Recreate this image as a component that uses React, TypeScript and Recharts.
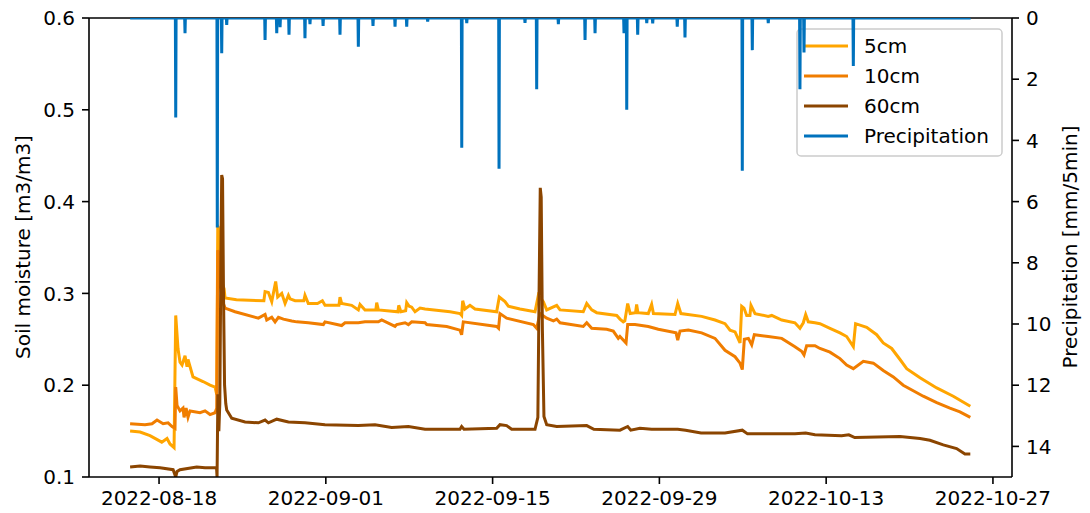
import React from "react";
import { LineChart, Line, XAxis, YAxis, ReferenceLine, Customized } from "recharts";

// x values are days since 2022-08-18
const dateTicks = [0, 14, 28, 42, 56, 70];
const dateLabels = ["2022-08-18", "2022-09-01", "2022-09-15", "2022-09-29", "2022-10-13", "2022-10-27"];
const moistureTicks = [0.1, 0.2, 0.3, 0.4, 0.5, 0.6];
const precipTicks = [0, 2, 4, 6, 8, 10, 12, 14];

const seriesNames = ["5cm", "10cm", "60cm", "Precipitation"];
const seriesColors = ["#ffa500", "#f07d00", "#8b4500", "#0072bd"];

// [day, m3/m3]
const soil5cm: [number, number][] = [
  [-2.43, 0.15], [-1.59, 0.149], [-0.76, 0.145], [0.23, 0.138], [0.67, 0.142], [0.92, 0.136],
  [1.26, 0.132], [1.4, 0.276], [1.59, 0.24], [1.76, 0.225], [1.93, 0.222], [2.18, 0.232],
  [2.35, 0.22], [2.43, 0.228], [2.85, 0.209], [3.69, 0.204], [4.28, 0.2], [4.7, 0.198],
  [4.84, 0.19], [4.93, 0.373], [4.98, 0.372], [5.08, 0.33], [5.2, 0.315], [5.46, 0.305],
  [5.54, 0.295], [6.5, 0.293], [8.8, 0.292], [8.9, 0.302], [9.18, 0.301], [9.46, 0.291],
  [9.79, 0.313], [9.96, 0.296], [10.3, 0.3], [10.58, 0.289], [10.86, 0.298], [11.0, 0.294],
  [11.42, 0.292], [12.15, 0.292], [12.25, 0.298], [12.53, 0.289], [13.3, 0.289], [13.71, 0.292],
  [13.93, 0.287], [15.1, 0.287], [15.19, 0.296], [15.33, 0.289], [16.17, 0.287], [16.73, 0.282],
  [16.87, 0.288], [17.29, 0.282], [18.2, 0.282], [18.27, 0.29], [18.41, 0.282], [20.05, 0.28],
  [20.12, 0.287], [20.3, 0.28], [20.7, 0.281], [20.79, 0.29], [21.0, 0.286], [21.21, 0.285],
  [21.49, 0.28], [21.91, 0.284], [22.33, 0.283], [24.43, 0.28], [25.26, 0.278], [25.4, 0.276],
  [25.49, 0.292], [25.68, 0.283], [26.1, 0.287], [26.52, 0.283], [28.34, 0.28], [28.56, 0.296],
  [29.04, 0.291], [29.32, 0.286], [30.3, 0.283], [31.56, 0.28], [31.84, 0.298], [32.26, 0.291],
  [32.54, 0.282], [33.38, 0.287], [33.66, 0.282], [35.61, 0.28], [35.9, 0.289], [36.32, 0.282],
  [36.74, 0.279], [38.42, 0.276], [38.69, 0.272], [38.97, 0.269], [39.1, 0.27], [39.34, 0.289],
  [39.55, 0.278], [40.0, 0.279], [40.09, 0.288], [40.2, 0.279], [41.07, 0.278], [41.35, 0.288],
  [41.5, 0.278], [43.31, 0.277], [43.54, 0.289], [43.81, 0.278], [45.55, 0.275], [46.67, 0.271],
  [47.51, 0.267], [47.93, 0.26], [48.35, 0.258], [48.77, 0.246], [48.91, 0.286], [49.1, 0.284],
  [49.33, 0.276], [49.6, 0.276], [49.69, 0.287], [50.03, 0.278], [51.14, 0.275], [51.43, 0.276],
  [52.27, 0.271], [53.38, 0.268], [53.8, 0.262], [54.08, 0.268], [54.28, 0.277], [54.5, 0.269],
  [55.06, 0.268], [55.48, 0.267], [56.32, 0.262], [57.16, 0.257], [57.72, 0.253], [58.28, 0.242],
  [58.47, 0.267], [59.4, 0.263], [60.24, 0.255], [60.79, 0.246], [61.5, 0.24], [62.2, 0.228],
  [62.76, 0.218], [63.88, 0.208], [65.28, 0.197], [66.67, 0.188], [68.1, 0.177],
];

const soil10cm: [number, number][] = [
  [-2.43, 0.158], [-1.18, 0.157], [-0.59, 0.158], [-0.17, 0.162], [0.34, 0.158], [0.76, 0.159],
  [1.09, 0.155], [1.34, 0.153], [1.4, 0.198], [1.51, 0.178], [1.76, 0.172], [2.01, 0.175],
  [2.1, 0.165], [2.27, 0.175], [2.43, 0.165], [2.6, 0.172], [3.44, 0.17], [3.86, 0.172],
  [4.28, 0.168], [4.7, 0.17], [4.84, 0.175], [4.93, 0.347], [5.0, 0.345], [5.12, 0.31],
  [5.37, 0.29], [5.54, 0.284], [6.38, 0.28], [8.34, 0.273], [8.9, 0.277], [9.04, 0.271],
  [9.46, 0.274], [9.74, 0.269], [10.02, 0.274], [10.44, 0.272], [11.14, 0.27], [11.56, 0.269],
  [12.53, 0.268], [13.79, 0.266], [13.93, 0.269], [15.33, 0.265], [15.61, 0.268], [16.73, 0.268],
  [17.29, 0.269], [18.41, 0.269], [18.69, 0.271], [19.81, 0.264], [19.95, 0.266], [20.65, 0.268],
  [20.93, 0.266], [21.21, 0.269], [22.33, 0.268], [22.47, 0.266], [24.15, 0.264], [25.26, 0.26],
  [25.4, 0.255], [25.54, 0.269], [28.34, 0.264], [28.5, 0.262], [28.62, 0.278], [29.18, 0.273],
  [31.42, 0.266], [31.7, 0.262], [31.98, 0.278], [32.54, 0.273], [33.1, 0.27], [33.38, 0.272],
  [33.66, 0.268], [35.61, 0.264], [35.9, 0.268], [36.32, 0.262], [37.58, 0.261], [38.13, 0.259],
  [38.55, 0.251], [38.69, 0.253], [39.2, 0.246], [39.34, 0.266], [39.95, 0.266], [41.07, 0.264],
  [41.91, 0.261], [43.4, 0.257], [43.54, 0.249], [43.73, 0.259], [44.43, 0.26], [45.55, 0.257],
  [46.67, 0.251], [47.51, 0.238], [48.35, 0.231], [48.77, 0.224], [48.96, 0.217], [49.13, 0.25],
  [49.47, 0.251], [49.75, 0.244], [49.97, 0.255], [51.14, 0.253], [52.27, 0.251], [53.38, 0.242],
  [53.94, 0.237], [54.14, 0.233], [54.36, 0.243], [55.06, 0.243], [55.48, 0.24], [56.32, 0.236],
  [57.16, 0.229], [57.72, 0.222], [58.28, 0.218], [59.12, 0.226], [59.96, 0.224], [60.79, 0.216],
  [61.64, 0.209], [62.47, 0.2], [63.31, 0.194], [64.15, 0.188], [65.28, 0.181], [66.39, 0.175],
  [67.23, 0.171], [68.1, 0.165],
];

const soil60cm: [number, number][] = [
  [-2.43, 0.111], [-1.59, 0.112], [-0.76, 0.111], [0.08, 0.11], [1.18, 0.108], [1.4, 0.1],
  [1.51, 0.106], [1.76, 0.108], [3.16, 0.111], [3.86, 0.11], [4.7, 0.11], [4.83, 0.109],
  [4.87, 0.1], [4.94, 0.19], [5.02, 0.15], [5.1, 0.18], [5.2, 0.35], [5.26, 0.429],
  [5.33, 0.425], [5.41, 0.3], [5.5, 0.2], [5.6, 0.18], [5.68, 0.173], [6.1, 0.164],
  [7.22, 0.16], [8.34, 0.159], [8.9, 0.162], [9.18, 0.159], [9.88, 0.163], [10.86, 0.16],
  [12.25, 0.159], [13.93, 0.157], [16.73, 0.156], [18.13, 0.157], [19.53, 0.154], [20.93, 0.155],
  [22.33, 0.152], [25.26, 0.152], [25.4, 0.155], [25.6, 0.152], [28.34, 0.153], [28.62, 0.157],
  [29.18, 0.156], [29.6, 0.152], [31.56, 0.152], [31.8, 0.165], [31.9, 0.3], [32.0, 0.415],
  [32.08, 0.405], [32.18, 0.26], [32.31, 0.166], [32.54, 0.157], [33.38, 0.155], [35.9, 0.156],
  [36.5, 0.152], [38.69, 0.151], [39.34, 0.155], [39.6, 0.151], [40.37, 0.153], [41.35, 0.152],
  [43.54, 0.152], [44.2, 0.151], [45.5, 0.148], [47.51, 0.148], [48.96, 0.151], [49.4, 0.147],
  [51.14, 0.147], [53.38, 0.147], [54.28, 0.148], [55.06, 0.146], [57.3, 0.145], [57.9, 0.146],
  [58.4, 0.143], [62.2, 0.144], [63.88, 0.142], [64.71, 0.14], [65.83, 0.135], [66.95, 0.131],
  [67.65, 0.125], [68.1, 0.125],
];

// [day, mm/5min] for each rain event; record runs from day -2.43 to 68.13
const precipRange = [-2.43, 68.13];
const precipEvents: [number, number][] = [
  [1.4, 3.25], [2.18, 0.5], [4.89, 6.85], [5.26, 1.15], [5.68, 0.23], [8.9, 0.72],
  [9.88, 0.5], [10.16, 0.3], [10.91, 0.55], [12.25, 0.66], [12.67, 0.2], [13.77, 0.26],
  [15.19, 0.55], [16.73, 0.94], [17.96, 0.26], [19.81, 0.28], [20.79, 0.28], [22.55, 0.12],
  [25.41, 4.24], [25.83, 0.17], [28.54, 4.93], [30.72, 0.16], [31.7, 2.33], [33.52, 0.2],
  [35.76, 0.72], [36.6, 0.5], [39.03, 0.5], [39.26, 3.0], [40.18, 0.55], [40.94, 0.17],
  [41.44, 0.18], [43.5, 0.28], [44.15, 0.64], [48.96, 4.99], [49.8, 1.05], [51.14, 0.17],
  [53.8, 2.33], [54.14, 1.13], [58.28, 1.57],
];

const toPoints = (arr: [number, number][]) => arr.map(([day, value]) => ({ day, value }));

const precipData = [
  { day: precipRange[0], value: 0 },
  ...precipEvents.flatMap(([day, value]) => [
    { day: day - 0.03, value: 0 },
    { day, value },
    { day: day + 0.03, value: 0 },
  ]),
  { day: precipRange[1], value: 0 },
];

const font = "DejaVu Sans, sans-serif";
const tickStyle = { fill: "#000", fontSize: 20, fontFamily: font };

function Overlay() {
  return (
    <g fontFamily={font} fontSize={20} fill="#000">
      <text x={23} y={247} transform="rotate(-90 23 247)" textAnchor="middle" dominantBaseline="central">
        Soil moisture [m3/m3]
      </text>
      <text x={1070} y={247} transform="rotate(-90 1070 247)" textAnchor="middle" dominantBaseline="central">
        Precipitation [mm/5min]
      </text>
      <rect x={797} y={29} width={205} height={127} rx={4} fill="#fff" fillOpacity={0.8} stroke="#cccccc" strokeWidth={1.5} />
      {seriesNames.map((name, i) => (
        <g key={name}>
          <line x1={804} x2={848} y1={46 + i * 30} y2={46 + i * 30} stroke={seriesColors[i]} strokeWidth={3} />
          <text x={864} y={46 + i * 30} dominantBaseline="central">{name}</text>
        </g>
      ))}
    </g>
  );
}

export default function App() {
  return (
    <div style={{ width: 1090, height: 513, margin: "-8px 0 0 -8px", fontFamily: font }}>
      <LineChart width={1090} height={513} margin={{ top: 18, right: 0, bottom: 0, left: 0 }}>
        <XAxis
          dataKey="day"
          type="number"
          domain={[-5.88, 71.6]}
          ticks={dateTicks}
          interval={0}
          tickFormatter={(d: number) => dateLabels[dateTicks.indexOf(d)]}
          allowDataOverflow
          height={36}
          tickSize={7}
          tickMargin={7}
          stroke="#000"
          strokeWidth={1.6}
          tick={tickStyle}
        />
        <YAxis
          yAxisId="left"
          domain={[0.1, 0.6]}
          ticks={moistureTicks}
          interval={0}
          tickFormatter={(v: number) => v.toFixed(1)}
          allowDataOverflow
          width={89}
          tickSize={7}
          tickMargin={7}
          stroke="#000"
          strokeWidth={1.6}
          tick={tickStyle}
        />
        <YAxis
          yAxisId="right"
          orientation="right"
          reversed
          domain={[0, 15]}
          ticks={precipTicks}
          interval={0}
          allowDataOverflow
          width={78}
          tickSize={7}
          tickMargin={7}
          stroke="#000"
          strokeWidth={1.6}
          tick={tickStyle}
        />
        <ReferenceLine yAxisId="left" y={0.6} stroke="#000" strokeWidth={1.6} />
        <Line yAxisId="left" data={toPoints(soil5cm)} dataKey="value" name="5cm" stroke={seriesColors[0]} strokeWidth={3} dot={false} type="linear" isAnimationActive={false} />
        <Line yAxisId="left" data={toPoints(soil10cm)} dataKey="value" name="10cm" stroke={seriesColors[1]} strokeWidth={3} dot={false} type="linear" isAnimationActive={false} />
        <Line yAxisId="left" data={toPoints(soil60cm)} dataKey="value" name="60cm" stroke={seriesColors[2]} strokeWidth={3} dot={false} type="linear" isAnimationActive={false} />
        <Customized component={Overlay} />
        <Line yAxisId="right" data={precipData} dataKey="value" name="Precipitation" stroke={seriesColors[3]} strokeWidth={3} dot={false} type="linear" isAnimationActive={false} />
      </LineChart>
    </div>
  );
}
